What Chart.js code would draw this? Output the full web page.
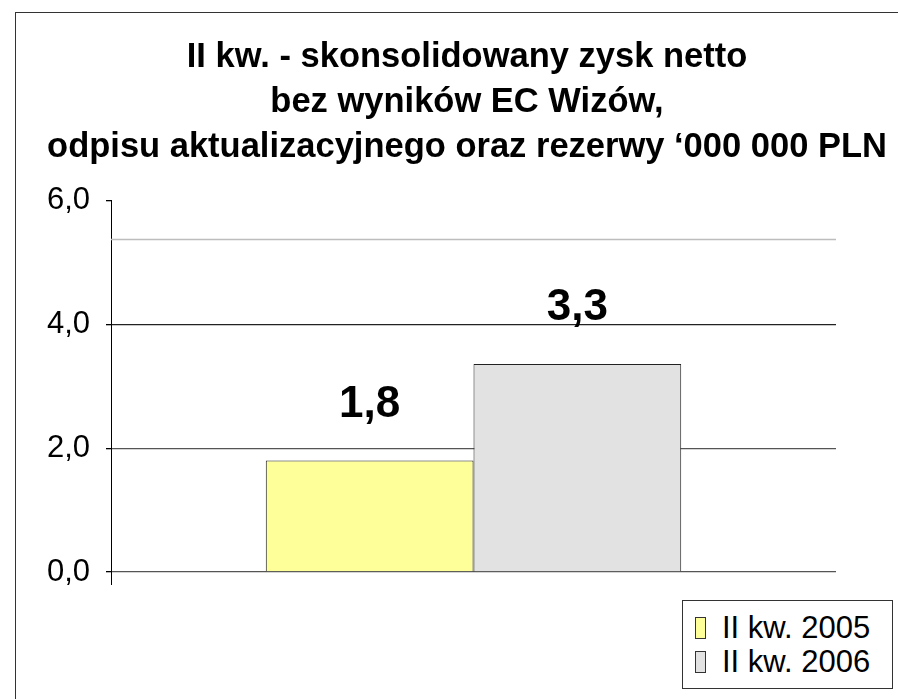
<!DOCTYPE html>
<html>
<head>
<meta charset="utf-8">
<script src="https://cdn.jsdelivr.net/npm/chart.js@4.4.1/dist/chart.umd.min.js"></script>
<style>
    html { overflow: hidden; background: #fff; }
    body { margin: 0; padding: 0; background: #fff; }
    #frame {
        position: absolute; left: 15px; top: 12px; width: 1200px; height: 1200px;
        border-left: 1px solid #333; border-top: 1px solid #333;
    }
    #chart { position: absolute; left: 16px; top: 13px; }
    #legend {
        position: absolute; left: 682px; top: 600px; width: 209px; height: 77px;
        border: 1px solid #333; background: #fff; padding-top: 10px;
        font-family: 'Liberation Sans', Arial, sans-serif; font-size: 31px; color: #000;
    }
    #legend .row { height: 34px; line-height: 34px; position: relative; padding-left: 39px; white-space: nowrap; }
    #legend .box { position: absolute; left: 12px; top: 6px; width: 9px; height: 20px; border: 1px solid #333; }
</style>
</head>
<body>
<div id="frame"></div>
<canvas id="chart" width="902" height="686"></canvas>
<div id="legend"></div>
<script>
// --- DATA ---
const titleLines = [
    'II kw. - skonsolidowany zysk netto',
    'bez wyników EC Wizów,',
    'odpisu aktualizacyjnego oraz rezerwy \u2018000 000 PLN'
];
const categories = [''];
const seriesLabels = ['II kw. 2005', 'II kw. 2006'];
const seriesValues = [[1.8], [3.36]];
const valueLabels = ['1,8', '3,3'];
const yTicks = [0, 2, 4, 6];
const upperLine = 5.37; // light grey line near the top of the plot

const seriesColors = ['#FFFF99', '#E2E2E2'];
const FONT = "'Liberation Sans', Arial, sans-serif";

// --- LEGEND (html, bottom right box) ---
const legendEl = document.getElementById('legend');
seriesLabels.forEach((lbl, i) => {
    const row = document.createElement('div');
    row.className = 'row';
    const box = document.createElement('span');
    box.className = 'box';
    box.style.background = seriesColors[i];
    row.appendChild(box);
    row.appendChild(document.createTextNode(lbl));
    legendEl.appendChild(row);
});

// --- extra drawing: value labels, top grey line, axis stub below zero ---
const extras = {
    id: 'extras',
    beforeDatasetsDraw(chart) {
        const { ctx, chartArea, scales } = chart;
        const y = scales.y.getPixelForValue(upperLine);
        ctx.save();
        ctx.strokeStyle = '#bdbdbd';
        ctx.lineWidth = 1.5;
        ctx.beginPath();
        ctx.moveTo(chartArea.left, y);
        ctx.lineTo(chartArea.right, y);
        ctx.stroke();
        // y axis continues a little below zero
        ctx.strokeStyle = '#000';
        ctx.lineWidth = 1;
        ctx.beginPath();
        ctx.moveTo(chartArea.left + 0.5, chartArea.bottom);
        ctx.lineTo(chartArea.left + 0.5, chartArea.bottom + 13);
        ctx.stroke();
        ctx.restore();
    },
    afterDatasetsDraw(chart) {
        const ctx = chart.ctx;
        ctx.save();
        ctx.font = 'bold 44px ' + FONT;
        ctx.fillStyle = '#000';
        ctx.textAlign = 'center';
        ctx.textBaseline = 'alphabetic';
        chart.data.datasets.forEach((ds, i) => {
            const bar = chart.getDatasetMeta(i).data[0];
            ctx.fillText(valueLabels[i], bar.x, bar.y - 44);
        });
        ctx.restore();
    }
};

new Chart(document.getElementById('chart'), {
    type: 'bar',
    data: {
        labels: categories,
        datasets: seriesLabels.map((lbl, i) => ({
            label: lbl,
            data: seriesValues[i],
            backgroundColor: seriesColors[i],
            borderColor: '#222',
            borderWidth: 1,
            barPercentage: 1,
            categoryPercentage: 0.573
        }))
    },
    options: {
        responsive: false,
        animation: false,
        layout: { padding: { bottom: 127 } },
        plugins: {
            legend: { display: false },
            tooltip: { enabled: false },
            title: {
                display: true,
                text: titleLines,
                color: '#000',
                font: { family: FONT, size: 34.5, weight: 'bold', lineHeight: 1.3 },
                padding: { top: 22, bottom: 31 }
            }
        },
        scales: {
            x: { display: false },
            y: {
                min: 0,
                max: 6,
                afterBuildTicks: (s) => { s.ticks = yTicks.map(v => ({ value: v })); },
                afterFit: (s) => { s.width = 95; },
                ticks: {
                    color: '#000',
                    font: { family: FONT, size: 31 },
                    padding: 16,
                    callback: (v) => v.toFixed(1).replace('.', ',')
                },
                grid: {
                    color: (c) => c.tick && c.tick.value === 6 ? 'rgba(0,0,0,0)' : (c.tick && c.tick.value === 4 ? '#222' : '#555'),
                    lineWidth: 1.3,
                    tickLength: 5,
                    tickColor: '#000'
                },
                border: { color: '#000', width: 1 }
            },
            y2: {
                position: 'right',
                display: true,
                min: 0,
                max: 1,
                afterFit: (s) => { s.width = 82; },
                ticks: { display: false },
                grid: { display: false },
                border: { display: false }
            }
        }
    },
    plugins: [extras]
});
</script>
</body>
</html>
